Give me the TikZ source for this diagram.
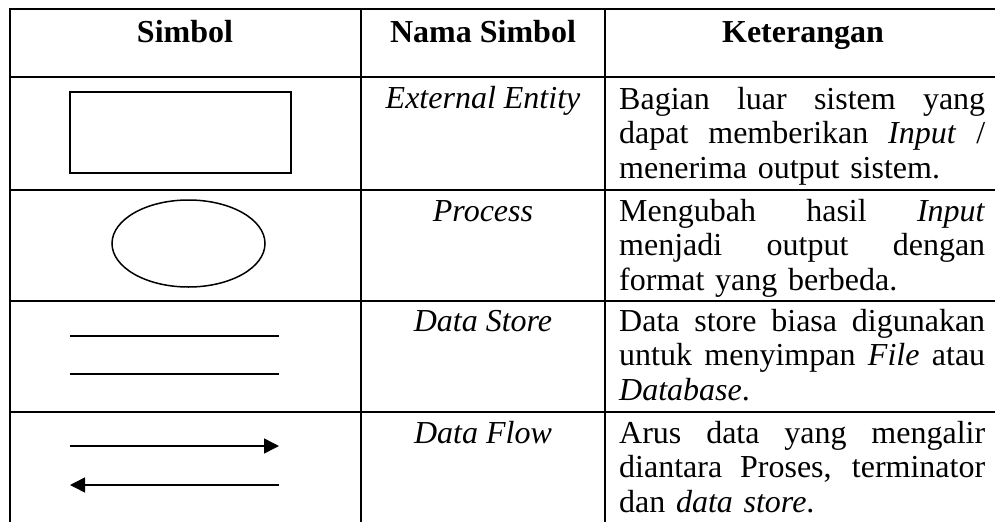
\documentclass[tikz,border=0pt]{standalone}
\usepackage{fontspec}
\setmainfont{Liberation Serif}
\usetikzlibrary{arrows.meta}
% one justified line of the description column, spaces stretched evenly to the full width
\newcommand\jline[1]{\leavevmode\hbox to 366pt{\spaceskip=0.25em plus 1fil\relax #1}}
\newcommand\firststrut{\rule{0pt}{24pt}}
\begin{document}
\begin{tikzpicture}[x=1pt,y=-1pt,
  rule/.style={line width=2.6pt},
  shapeline/.style={line width=1.5pt},
  txt/.style={inner sep=0pt, font=\fontsize{32}{34.5}\selectfont},
  headtxt/.style={txt, font=\fontsize{32}{34.5}\selectfont\bfseries, anchor=base},
  nametxt/.style={txt, font=\fontsize{32}{34.5}\selectfont\itshape, anchor=base},
  desctxt/.style={txt, anchor=north west, text width=366pt, align=left},
  flow/.style={shapeline, -{Triangle[length=15pt,width=15pt]}},
]
\useasboundingbox (0,0) rectangle (995,522);

% table grid
\draw[rule] (10,9) -- (995,9);
\draw[rule] (10,77) -- (995,77);
\draw[rule] (10,190) -- (995,190);
\draw[rule] (10,301) -- (995,301);
\draw[rule] (10,412) -- (995,412);
\draw[rule] (10,7.7) -- (10,522);
\draw[rule] (361,7.7) -- (361,522);
\draw[rule] (605,7.7) -- (605,522);

% header row
\node[headtxt] (h1) at (185,42) {Simbol};
\node[headtxt] (h2) at (483,42) {Nama Simbol};
\node[headtxt] (h3) at (803,42) {Keterangan};

% symbols
\node[draw, shapeline, inner sep=0pt, minimum width=221pt, minimum height=81pt] (entity) at (180.5,132.5) {};
\draw[shapeline] (188.5,243.5) ellipse [x radius=76.5, y radius=43.5];
\coordinate (s1a) at (70,336); \coordinate (s1b) at (279,336);
\coordinate (s2a) at (70,374); \coordinate (s2b) at (279,374);
\draw[shapeline] (s1a) -- (s1b);
\draw[shapeline] (s2a) -- (s2b);
\coordinate (f1a) at (70,446); \coordinate (f1b) at (279,446);
\coordinate (f2a) at (279,485); \coordinate (f2b) at (70,485);
\draw[flow] (f1a) -- (f1b);
\draw[flow] (f2a) -- (f2b);

% symbol names
\node[nametxt] (n1) at (483,108) {External Entity};
\node[nametxt] (n2) at (483,221) {Process};
\node[nametxt] (n3) at (483,331) {Data Store};
\node[nametxt] (n4) at (483,443) {Data Flow};

% descriptions
\node[desctxt] (d1) at (619,85) {\firststrut\jline{Bagian luar sistem yang}\\
  \jline{dapat memberikan \textit{Input} /}\\
  menerima output sistem.};
\node[desctxt] (d2) at (619,197) {\firststrut\jline{Mengubah hasil \textit{Input}}\\
  \jline{menjadi output dengan}\\
  format yang berbeda.};
\node[desctxt] (d3) at (619,307) {\firststrut\jline{Data store biasa digunakan}\\
  \jline{untuk menyimpan \textit{File} atau}\\
  \textit{Database}.};
\node[desctxt] (d4) at (619,419) {\firststrut\jline{Arus data yang mengalir}\\
  \jline{diantara Proses, terminator}\\
  dan \textit{data store}.};
\end{tikzpicture}
\end{document}
